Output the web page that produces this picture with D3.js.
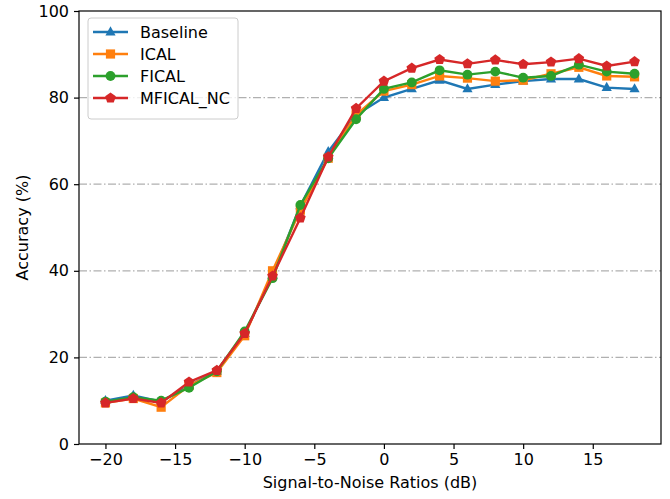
<!DOCTYPE html>
<html>
<head>
<meta charset="utf-8">
<script src="https://cdn.jsdelivr.net/npm/d3@7"></script>
<style>
  body { margin: 0; background: #fff; }
  svg { font-family: "DejaVu Sans", sans-serif; }
</style>
</head>
<body>
<div id="chart"></div>
<script>
// SNR values (dB)
var snr = [-20, -18, -16, -14, -12, -10, -8, -6, -4, -2, 0, 2, 4, 6, 8, 10, 12, 14, 16, 18];

var baseline = [10, 11.2, 9.8, 13.5, 16.8, 25.5, 39, 55, 67.5, 76, 80, 82, 84, 82, 83, 83.8, 84.3, 84.3, 82.3, 82];
var ical     = [9.5, 10.5, 8.5, 13.5, 16.5, 25, 40, 54, 66, 76, 81.5, 83, 85, 84.5, 83.8, 84, 85.5, 87, 85, 84.8];
var fical    = [9.8, 10.8, 10, 13, 16.8, 26, 38.3, 55.2, 66, 75, 82, 83.5, 86.3, 85.3, 86, 84.6, 85, 87.6, 86, 85.5];
var mfical   = [9.5, 10.5, 9.5, 14.3, 17, 25.5, 38.8, 52.2, 66.3, 77.5, 83.8, 86.8, 88.8, 87.8, 88.7, 87.7, 88.2, 89, 87.3, 88.3];

var seriesNames = ["Baseline", "ICAL", "FICAL", "MFICAL_NC"];
var seriesColors = ["#1f77b4", "#ff7f0e", "#2ca02c", "#d62728"];
var seriesMarkers = ["triangle", "square", "circle", "pentagon"];
var seriesValues = [baseline, ical, fical, mfical];

var xTicks = [-20, -15, -10, -5, 0, 5, 10, 15];
var yTicks = [0, 20, 40, 60, 80, 100];

var width = 670, height = 499;
var margin = { top: 11, right: 9, bottom: 55, left: 79 };
var plotW = width - margin.left - margin.right;
var plotH = height - margin.top - margin.bottom;
var fontSize = '16px';

var svg = d3.select('#chart').append('svg')
  .attr('width', width)
  .attr('height', height);

var plot = svg.append('g')
  .attr('transform', 'translate(' + margin.left + ',' + margin.top + ')');

var xScale = d3.scaleLinear().domain([-21.9, 19.9]).range([0, plotW]);
var yScale = d3.scaleLinear().domain([0, 100]).range([plotH, 0]);

// dash-dot horizontal grid
plot.append('g').selectAll('line')
  .data(yTicks.slice(1, -1))
  .enter().append('line')
  .attr('x1', 0).attr('x2', plotW)
  .attr('y1', function(d) { return yScale(d); })
  .attr('y2', function(d) { return yScale(d); })
  .attr('stroke', '#b0b0b0')
  .attr('stroke-width', 1.2)
  .attr('stroke-dasharray', '8,2.5,1.5,2.5');

// axes
var xAxis = d3.axisBottom(xScale).tickValues(xTicks).tickSize(5).tickPadding(5)
  .tickFormat(function(d) { return d < 0 ? '\u2212' + Math.abs(d) : d; });
var yAxis = d3.axisLeft(yScale).tickValues(yTicks).tickSize(5).tickPadding(5);

var gx = plot.append('g').attr('transform', 'translate(0,' + plotH + ')').call(xAxis);
var gy = plot.append('g').call(yAxis);
[gx, gy].forEach(function(g) {
  g.select('.domain').remove();
  g.selectAll('.tick line').attr('stroke', '#000').attr('stroke-width', 1.2);
  g.selectAll('.tick text').attr('fill', '#000').style('font-size', fontSize)
    .style('font-family', '"DejaVu Sans", sans-serif');
});

// frame
plot.append('rect')
  .attr('width', plotW).attr('height', plotH)
  .attr('fill', 'none').attr('stroke', '#000').attr('stroke-width', 1.2);

// axis labels
svg.append('text')
  .attr('x', margin.left + plotW / 2).attr('y', height - 11)
  .attr('text-anchor', 'middle').style('font-size', fontSize)
  .text('Signal-to-Noise Ratios (dB)');
svg.append('text')
  .attr('transform', 'translate(28,' + (margin.top + plotH / 2) + ') rotate(-90)')
  .attr('text-anchor', 'middle').style('font-size', fontSize)
  .text('Accuracy (%)');

function markerPath(type) {
  if (type === 'triangle') {
    return 'M0,-5.8L5.1,3.4L-5.1,3.4Z';
  }
  if (type === 'square') {
    return 'M-4.6,-4.6H4.6V4.6H-4.6Z';
  }
  if (type === 'pentagon') {
    var pts = d3.range(5).map(function(i) {
      var a = -Math.PI / 2 + i * 2 * Math.PI / 5;
      return [5.6 * Math.cos(a), 5.6 * Math.sin(a)];
    });
    return 'M' + pts.join('L') + 'Z';
  }
  return d3.symbol().type(d3.symbolCircle).size(76)();
}

var line = d3.line()
  .x(function(d, i) { return xScale(snr[i]); })
  .y(function(d) { return yScale(d); });

seriesValues.forEach(function(vals, k) {
  var g = plot.append('g');
  g.append('path')
    .datum(vals)
    .attr('d', line)
    .attr('fill', 'none')
    .attr('stroke', seriesColors[k])
    .attr('stroke-width', 2.4);
  g.selectAll('path.mk')
    .data(vals)
    .enter().append('path')
    .attr('class', 'mk')
    .attr('d', markerPath(seriesMarkers[k]))
    .attr('transform', function(d, i) {
      return 'translate(' + xScale(snr[i]) + ',' + yScale(d) + ')';
    })
    .attr('fill', seriesColors[k]);
});

// legend
var legend = svg.append('g').attr('transform', 'translate(88,18)');
legend.append('rect')
  .attr('width', 150).attr('height', 101).attr('rx', 3)
  .attr('fill', '#fff').attr('fill-opacity', 0.8)
  .attr('stroke', '#ccc').attr('stroke-width', 1);

seriesNames.forEach(function(name, k) {
  var row = legend.append('g').attr('transform', 'translate(0,' + (14 + k * 22) + ')');
  row.append('line')
    .attr('x1', 5).attr('x2', 40)
    .attr('stroke', seriesColors[k]).attr('stroke-width', 2.4);
  row.append('path')
    .attr('d', markerPath(seriesMarkers[k]))
    .attr('transform', 'translate(22.5,0)')
    .attr('fill', seriesColors[k]);
  row.append('text')
    .attr('x', 52).attr('y', 6)
    .style('font-size', fontSize)
    .text(name);
});
</script>
</body>
</html>
